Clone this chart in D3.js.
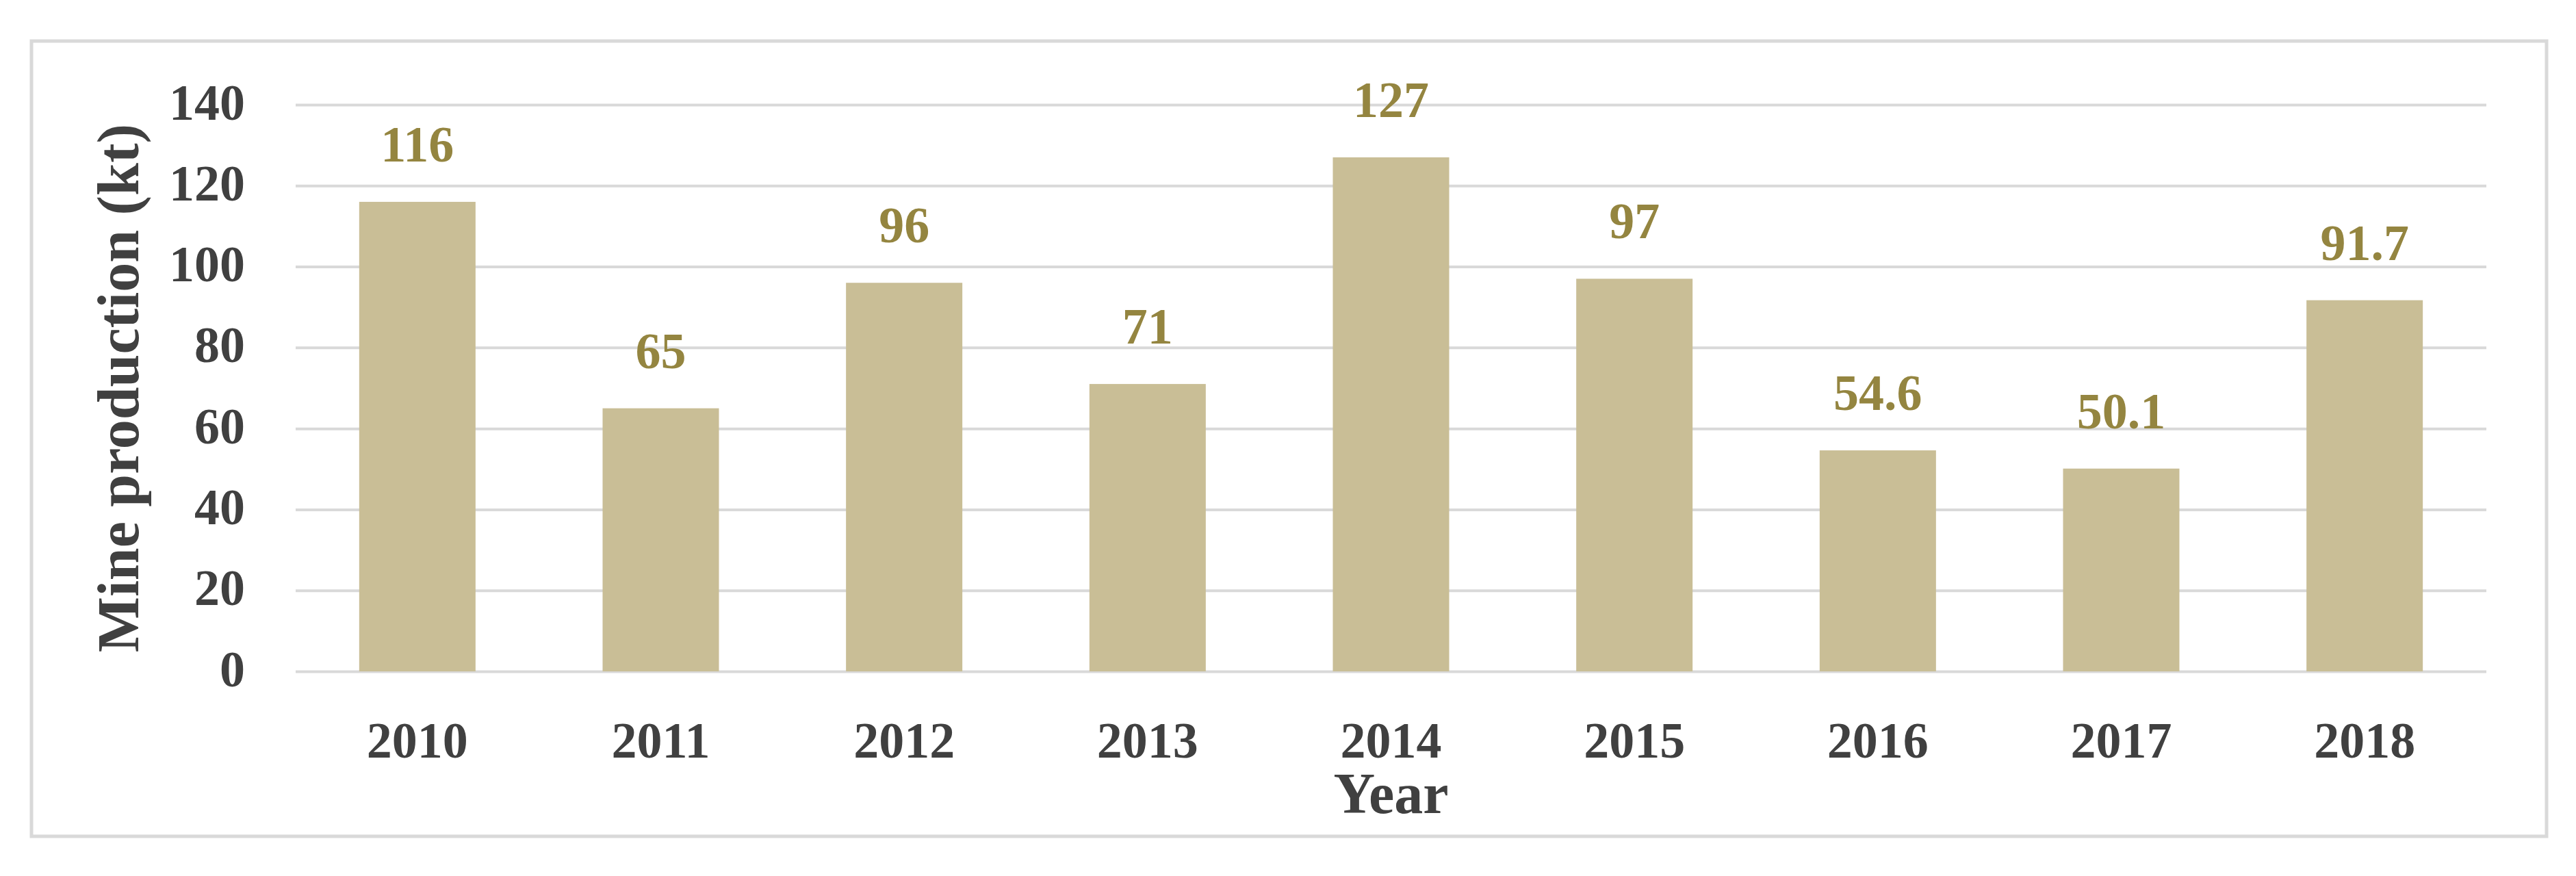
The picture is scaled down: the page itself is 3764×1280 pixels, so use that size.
<!DOCTYPE html>
<html>
<head>
<meta charset="utf-8">
<script src="https://cdn.jsdelivr.net/npm/d3@7"></script>
<style>
  html, body { margin: 0; padding: 0; background: #fff; }
  svg { display: block; }
  text { font-family: "Liberation Serif", "Times New Roman", serif; font-weight: bold; }
</style>
</head>
<body>
<svg id="chart" width="3764" height="1280"></svg>
<script>
// ---- data ----
const years = ["2010", "2011", "2012", "2013", "2014", "2015", "2016", "2017", "2018"];
const production = [116, 65, 96, 71, 127, 97, 54.6, 50.1, 91.7];
const yTicks = [0, 20, 40, 60, 80, 100, 120, 140];
const yTitle = "Mine production (kt)";
const xTitle = "Year";

// ---- layout ----
const W = 3764, H = 1280;
const plot = { left: 432, right: 3633, top: 153, bottom: 981 };
const barColor = "#C9BE96";
const labelColor = "#948540";
const textColor = "#404040";
const gridColor = "#D9D9D9";

const svg = d3.select("#chart");

svg.append("rect")
  .attr("x", 0).attr("y", 0).attr("width", W).attr("height", H)
  .attr("fill", "#fff");

// outer chart border
svg.append("rect")
  .attr("x", 46).attr("y", 60)
  .attr("width", 3721 - 46).attr("height", 1222 - 60)
  .attr("fill", "#fff")
  .attr("stroke", gridColor)
  .attr("stroke-width", 5);

const x = d3.scaleBand()
  .domain(years)
  .range([plot.left, plot.right])
  .padding(0);

const y = d3.scaleLinear()
  .domain([0, 140])
  .range([plot.bottom, plot.top]);

const barW = x.bandwidth() * 0.478;

// gridlines + y tick labels via axis
const yAxis = d3.axisLeft(y)
  .tickValues(yTicks)
  .tickSize(-(plot.right - plot.left))
  .tickPadding(plot.left - 358)
  .tickFormat(d3.format("d"));

const gy = svg.append("g")
  .attr("transform", `translate(${plot.left},0)`)
  .call(yAxis);
gy.select(".domain").remove();
gy.selectAll(".tick line")
  .attr("stroke", gridColor)
  .attr("stroke-width", 4);
gy.selectAll(".tick text")
  .attr("fill", textColor)
  .attr("font-size", 74)
  .attr("font-family", "'Liberation Serif', 'Times New Roman', serif")
  .attr("font-weight", "bold")
  .attr("dy", null)
  .attr("y", 21);

// bars
const data = years.map((yr, i) => ({ year: yr, value: production[i] }));

svg.append("g").selectAll("rect")
  .data(data)
  .join("rect")
  .attr("x", d => x(d.year) + (x.bandwidth() - barW) / 2)
  .attr("y", d => y(d.value))
  .attr("width", barW)
  .attr("height", d => y(0) - y(d.value))
  .attr("fill", barColor);

// value labels
svg.append("g").selectAll("text")
  .data(data)
  .join("text")
  .attr("x", d => x(d.year) + x.bandwidth() / 2)
  .attr("y", d => y(d.value) - 59)
  .attr("text-anchor", "middle")
  .attr("font-size", 74)
  .attr("fill", labelColor)
  .text(d => String(d.value));

// x axis category labels
const xAxis = d3.axisBottom(x).tickSize(0).tickPadding(0);
const gx = svg.append("g")
  .attr("transform", `translate(0,${plot.bottom})`)
  .call(xAxis);
gx.select(".domain").remove();
gx.selectAll(".tick text")
  .attr("fill", textColor)
  .attr("font-size", 74)
  .attr("font-family", "'Liberation Serif', 'Times New Roman', serif")
  .attr("font-weight", "bold")
  .attr("dy", null)
  .attr("y", 1107 - plot.bottom);

// axis titles
svg.append("text")
  .attr("x", (plot.left + plot.right) / 2)
  .attr("y", 1188)
  .attr("text-anchor", "middle")
  .attr("font-size", 84)
  .attr("fill", textColor)
  .text(xTitle);

svg.append("text")
  .attr("transform", `translate(202,${(plot.top + plot.bottom) / 2}) rotate(-90)`)
  .attr("text-anchor", "middle")
  .attr("font-size", 86)
  .attr("fill", textColor)
  .text(yTitle);
</script>
</body>
</html>
